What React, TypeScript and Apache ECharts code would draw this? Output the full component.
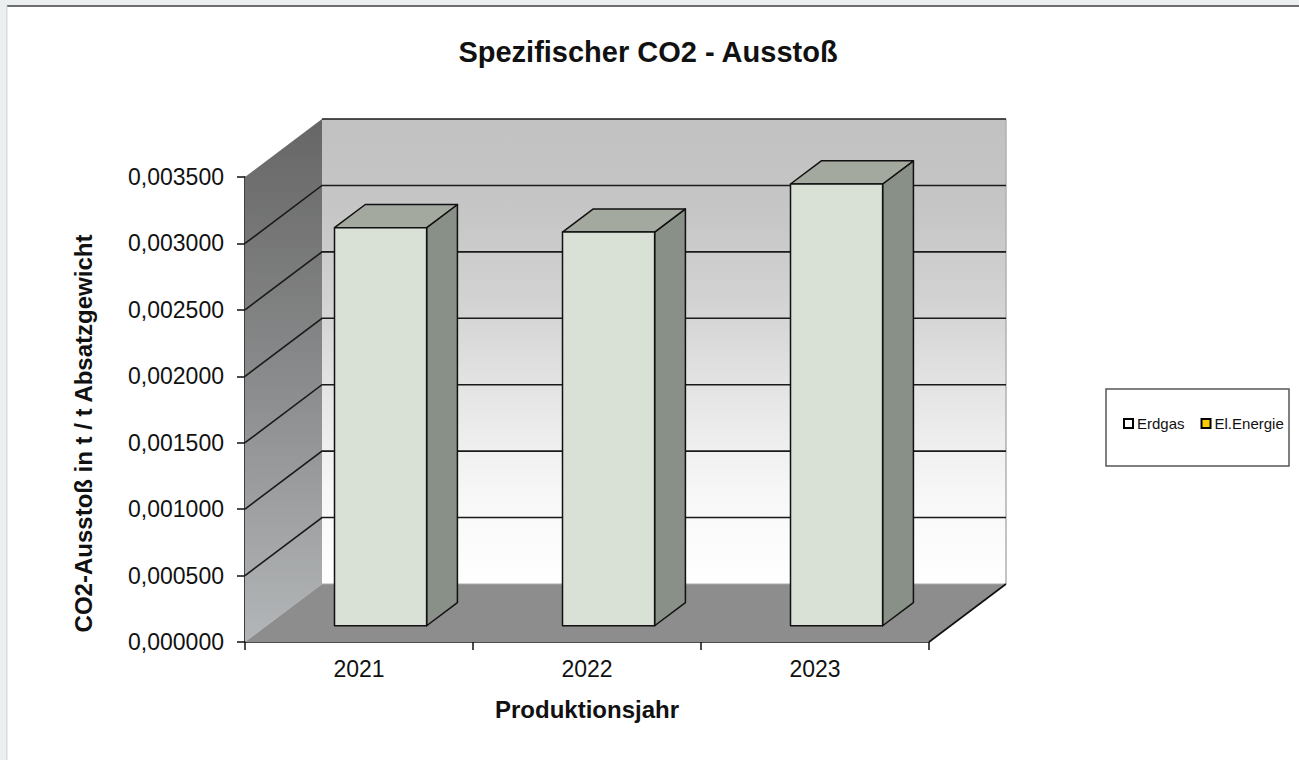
import React, { useEffect, useRef } from "react";
import * as echarts from "echarts";

const categories = ["2021", "2022", "2023"];
const erdgas = [0.002996, 0.002963, 0.003325];
const elEnergie = [0, 0, 0];
const yTicks = [0, 0.0005, 0.001, 0.0015, 0.002, 0.0025, 0.003, 0.0035];
const seriesNames = ["Erdgas", "El.Energie"];

const FONT = "'Liberation Sans', Arial, sans-serif";
const DX = 77;
const DY = -58;
const Z0 = 0.28;
const Z1 = 0.68;
const BAR_W = 0.404;

export default function App() {
  const ref = useRef<HTMLDivElement>(null);
  useEffect(() => {
    if (!ref.current) return;
    const chart = echarts.init(ref.current, undefined, { renderer: "svg" });
    const yMax = yTicks[yTicks.length - 1];

    const frameRender = (params: any, api: any) => {
      const cs = params.coordSys;
      const left = cs.x;
      const right = cs.x + cs.width;
      const top = api.coord([0, yMax])[1];
      const bottom = api.coord([0, 0])[1];
      const children: any[] = [];
      children.push({
        type: "polygon",
        shape: { points: [[left, top], [left + DX, top + DY], [left + DX, bottom + DY], [left, bottom]] },
        style: {
          fill: { type: "linear", x: 0, y: 0, x2: 0, y2: 1, colorStops: [
            { offset: 0, color: "#666666" }, { offset: 0.5, color: "#8a8b8c" }, { offset: 1, color: "#b3b6b8" }] },
        },
      });
      children.push({
        type: "rect",
        shape: { x: left + DX, y: top + DY, width: right - left, height: bottom - top },
        style: {
          fill: { type: "linear", x: 0, y: 0, x2: 0, y2: 1, colorStops: [
            { offset: 0, color: "#c1c1c1" }, { offset: 0.2, color: "#c6c6c6" }, { offset: 0.4, color: "#d3d3d3" },
            { offset: 0.6, color: "#e6e6e6" }, { offset: 0.8, color: "#f7f7f7" }, { offset: 1, color: "#ffffff" }] },
        },
      });
      children.push({
        type: "line",
        shape: { x1: right + DX, y1: top + DY, x2: right + DX, y2: bottom + DY },
        style: { stroke: "#b0b0b0", lineWidth: 1.5 },
      });
      children.push({
        type: "polygon",
        shape: { points: [[left, bottom], [right, bottom], [right + DX, bottom + DY], [left + DX, bottom + DY]] },
        style: { fill: "#8d8d8d" },
      });
      children.push({
        type: "line",
        shape: { x1: left + DX, y1: bottom + DY, x2: right + DX, y2: bottom + DY },
        style: { stroke: "#a8a8a8", lineWidth: 1 },
      });
      children.push({
        type: "line",
        shape: { x1: right, y1: bottom, x2: right + DX, y2: bottom + DY },
        style: { stroke: "#111111", lineWidth: 1.6 },
      });
      yTicks.forEach((v) => {
        if (v <= 0) return;
        const y = api.coord([0, v])[1];
        const pts = v >= yMax
          ? [[left + DX, y + DY], [right + DX, y + DY]]
          : [[left, y], [left + DX, y + DY], [right + DX, y + DY]];
        children.push({
          type: "polyline",
          shape: { points: pts },
          style: { stroke: "#1a1a1a", lineWidth: 1.6, fill: null },
        });
      });
      return { type: "group", children };
    };

    const barRender = (colors: { front: string; top: string; side: string }) => (params: any, api: any) => {
      const idx = api.value(0);
      const v = api.value(1);
      if (!v) return null;
      const p0 = api.coord([idx, 0]);
      const p1 = api.coord([idx, v]);
      const bw = api.size([1, 0])[0] * BAR_W;
      const x0 = p0[0] - bw / 2 + DX * Z0;
      const x1 = x0 + bw;
      const yb = p0[1] + DY * Z0;
      const yt = p1[1] + DY * Z0;
      const ddx = DX * (Z1 - Z0);
      const ddy = DY * (Z1 - Z0);
      const stroke = { stroke: "#111111", lineWidth: 1.5, lineJoin: "round" };
      return {
        type: "group",
        children: [
          { type: "polygon", shape: { points: [[x1, yt], [x1 + ddx, yt + ddy], [x1 + ddx, yb + ddy], [x1, yb]] }, style: { fill: colors.side, ...stroke } },
          { type: "polygon", shape: { points: [[x0, yt], [x1, yt], [x1 + ddx, yt + ddy], [x0 + ddx, yt + ddy]] }, style: { fill: colors.top, ...stroke } },
          { type: "rect", shape: { x: x0, y: yt, width: bw, height: yb - yt }, style: { fill: colors.front, ...stroke } },
        ],
      };
    };

    const option: any = {
      animation: false,
      backgroundColor: "#eceff0",
      title: {
        text: "Spezifischer CO2 - Ausstoß",
        left: 643,
        textAlign: "center",
        top: 32,
        textStyle: { fontFamily: FONT, fontSize: 29, fontWeight: "bold", color: "#111111" },
      },
      graphic: [
        { type: "rect", z: -10, shape: { x: 7, y: 6, width: 1292, height: 754 }, style: { fill: "#ffffff" } },
        { type: "rect", z: -9, shape: { x: 7, y: 5, width: 1292, height: 2 }, style: { fill: "#6f6f6f" } },
        { type: "rect", z: -9, shape: { x: 6, y: 6, width: 1.5, height: 754 }, style: { fill: "#d8dadb" } },
        { type: "rect", z: 0, shape: { x: 1106, y: 389, width: 183, height: 77 }, style: { fill: "#ffffff", stroke: "#555555", lineWidth: 1.5 } },
      ],
      legend: {
        data: [
          { name: seriesNames[0], itemStyle: { color: "#ffffff", borderColor: "#000000", borderWidth: 2 } },
          { name: seriesNames[1], itemStyle: { color: "#ffcc00", borderColor: "#000000", borderWidth: 2 } },
        ],
        left: 1123,
        top: 416,
        padding: 0,
        icon: "rect",
        itemWidth: 9,
        itemHeight: 9,
        itemGap: 16,
        textStyle: { fontFamily: FONT, fontSize: 15, color: "#111111", padding: [0, 0, 0, -1] },
        selectedMode: false,
      },
      grid: { left: 245, right: 370, top: 177, bottom: 118, containLabel: false },
      xAxis: {
        type: "category",
        data: categories,
        name: "Produktionsjahr",
        nameLocation: "middle",
        nameGap: 55,
        nameTextStyle: { fontFamily: FONT, fontSize: 24, fontWeight: "bold", color: "#111111" },
        axisLine: { show: true, lineStyle: { color: "#111111", width: 1.6 } },
        axisTick: { show: true, length: 8, lineStyle: { color: "#111111", width: 1.5 } },
        axisLabel: { fontFamily: FONT, fontSize: 23, color: "#111111", margin: 15 },
        splitLine: { show: false },
      },
      yAxis: {
        type: "value",
        min: 0,
        max: yMax,
        interval: 0.0005,
        name: "CO2-Ausstoß in t / t Absatzgewicht",
        nameLocation: "middle",
        nameRotate: 90,
        nameGap: 150,
        nameTextStyle: { fontFamily: FONT, fontSize: 24, fontWeight: "bold", color: "#111111", padding: [0, 48, 0, 0] },
        axisLine: { show: true, lineStyle: { color: "#111111", width: 1.6 } },
        axisTick: { show: true, length: 8, lineStyle: { color: "#111111", width: 1.5 } },
        axisLabel: {
          fontFamily: FONT, fontSize: 23, color: "#111111", margin: 21,
          formatter: (v: number) => v.toFixed(6).replace(".", ","),
        },
        splitLine: { show: false },
      },
      series: [
        {
          name: "frame",
          type: "custom",
          silent: true,
          z: 1,
          renderItem: frameRender,
          data: [[0, 0]],
          encode: { x: 0, y: 1 },
        },
        {
          name: seriesNames[0],
          type: "custom",
          z: 3,
          itemStyle: { color: "#ffffff", borderColor: "#000000", borderWidth: 2 },
          renderItem: barRender({ front: "#d9e1d6", top: "#a4a9a0", side: "#899087" }),
          data: erdgas.map((v, i) => [i, v]),
          encode: { x: 0, y: 1 },
        },
        {
          name: seriesNames[1],
          type: "custom",
          z: 3,
          itemStyle: { color: "#ffcc00", borderColor: "#000000", borderWidth: 2 },
          renderItem: barRender({ front: "#ffcc00", top: "#d4aa00", side: "#b38f00" }),
          data: elEnergie.map((v, i) => [i, v]),
          encode: { x: 0, y: 1 },
        },
      ],
    };
    chart.setOption(option);
    return () => chart.dispose();
  }, []);
  return <div ref={ref} style={{ position: "absolute", left: 0, top: 0, width: 1299, height: 760 }} />;
}
